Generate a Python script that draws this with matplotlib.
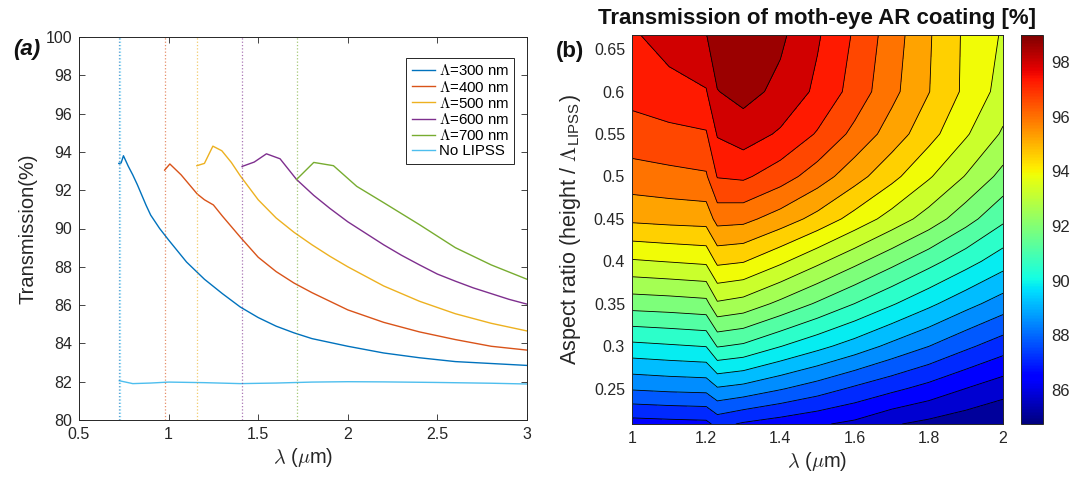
import numpy as np
import matplotlib
matplotlib.use("Agg")
import matplotlib.pyplot as plt
from matplotlib.ticker import FuncFormatter
from matplotlib.colors import Normalize
from matplotlib.cm import ScalarMappable

plt.rcParams['font.family'] = ['Liberation Sans', 'DejaVu Sans']
plt.rcParams['mathtext.fontset'] = 'cm'

# ---------------- Panel (a) data ----------------
x300 = [0.722, 0.735, 0.748, 0.775, 0.8, 0.825, 0.85, 0.875, 0.9, 0.925, 0.95, 1.0, 1.1, 1.2, 1.3, 1.4, 1.5, 1.6, 1.7, 1.8, 1.9, 2.0, 2.2, 2.4, 2.6, 2.8, 3.0]
y300 = [93.4, 93.42, 93.8, 93.25, 92.8, 92.3, 91.75, 91.2, 90.7, 90.35, 90.0, 89.4, 88.25, 87.35, 86.6, 85.9, 85.35, 84.9, 84.55, 84.25, 84.05, 83.85, 83.5, 83.25, 83.05, 82.95, 82.85]

x400 = [0.978, 1.007, 1.07, 1.16, 1.2, 1.25, 1.3, 1.35, 1.4, 1.5, 1.6, 1.7, 1.8, 1.9, 2.0, 2.2, 2.4, 2.6, 2.8, 3.0]
y400 = [93.05, 93.37, 92.8, 91.8, 91.5, 91.23, 90.65, 90.1, 89.55, 88.5, 87.75, 87.15, 86.65, 86.2, 85.75, 85.1, 84.6, 84.2, 83.85, 83.65]

x500 = [1.158, 1.2, 1.247, 1.297, 1.35, 1.4, 1.5, 1.6, 1.7, 1.8, 1.9, 2.0, 2.2, 2.4, 2.6, 2.8, 3.0]
y500 = [93.28, 93.4, 94.3, 94.06, 93.45, 92.75, 91.5, 90.55, 89.8, 89.15, 88.55, 88.0, 87.0, 86.2, 85.55, 85.05, 84.65]

x600 = [1.41, 1.478, 1.546, 1.622, 1.714, 1.81, 1.9, 2.0, 2.1, 2.2, 2.3, 2.4, 2.5, 2.6, 2.7, 2.8, 2.9, 3.0]
y600 = [93.24, 93.47, 93.9, 93.64, 92.56, 91.73, 91.05, 90.35, 89.75, 89.15, 88.6, 88.1, 87.62, 87.25, 86.9, 86.6, 86.3, 86.05]

x700 = [1.714, 1.81, 1.92, 2.05, 2.2, 2.4, 2.6, 2.8, 3.0]
y700 = [92.56, 93.45, 93.28, 92.2, 91.35, 90.2, 89.0, 88.1, 87.35]

x_nolipss = [0.725, 0.8, 0.9, 1.0, 1.2, 1.4, 1.6, 1.8, 2.0, 2.2, 2.5, 2.8, 3.0]
y_nolipss = [82.05, 81.9, 81.93, 81.98, 81.95, 81.9, 81.93, 81.98, 82.0, 81.99, 81.96, 81.92, 81.88]

labels = [r'$\Lambda$=300 nm', r'$\Lambda$=400 nm', r'$\Lambda$=500 nm',
          r'$\Lambda$=600 nm', r'$\Lambda$=700 nm', 'No LIPSS']
cutoffs = [0.722, 0.978, 1.158, 1.41, 1.714]
cutoff_nolipss = 0.729

# ---------------- Panel (b) data ----------------
wl = [1.0, 1.1, 1.2, 1.23, 1.3, 1.4, 1.5, 1.6, 1.7, 1.8, 1.9, 2.0]
ar = [0.2083, 0.25, 0.30, 0.35, 0.40, 0.45, 0.50, 0.55, 0.60, 0.6667]
# one list per wavelength column, values from bottom (ar[0]) to top (ar[-1])
T_cols = [
    [86.49, 88.21, 90.00, 91.83, 93.50, 95.07, 96.00, 96.67, 97.20, 97.55],
    [86.55, 88.30, 90.10, 91.90, 93.60, 95.15, 96.10, 96.80, 97.40, 97.95],
    [86.60, 88.35, 90.20, 92.00, 93.70, 95.20, 96.20, 96.90, 97.60, 98.30],
    [87.00, 88.75, 90.90, 92.80, 94.40, 95.85, 97.00, 97.70, 98.30, 98.75],
    [86.70, 88.59, 90.74, 92.63, 94.29, 95.80, 97.08, 97.98, 98.55, 98.95],
    [86.45, 88.20, 90.20, 92.05, 93.70, 95.30, 96.60, 97.55, 98.15, 98.45],
    [86.20, 87.80, 89.70, 91.45, 93.05, 94.70, 95.95, 96.90, 97.50, 97.72],
    [85.95, 87.35, 89.20, 90.85, 92.40, 94.00, 95.20, 96.10, 96.70, 96.88],
    [85.50, 86.95, 88.65, 90.25, 91.75, 93.30, 94.45, 95.30, 95.80, 95.95],
    [85.25, 86.55, 88.15, 89.65, 91.10, 92.60, 93.65, 94.50, 94.95, 95.00],
    [85.00, 86.10, 87.60, 89.05, 90.45, 91.80, 92.85, 93.65, 94.10, 94.12],
    [84.80, 85.70, 87.10, 88.50, 89.80, 91.00, 92.00, 92.80, 93.30, 93.50],
]
T_min, T_max = 84.75, 99.0
n_lines = 20
cbar_ticks = [86, 88, 90, 92, 94, 96, 98]

# ---------------- Figure ----------------
W, H = 1083, 479
fig = plt.figure(figsize=(W / 100, H / 100), dpi=100)

def rect(x0, y0, x1, y1):
    return [x0 / W, 1 - y1 / H, (x1 - x0) / W, (y1 - y0) / H]

axc = '#262626'
mcolors = [(0, 0.447, 0.741), (0.85, 0.325, 0.098), (0.929, 0.694, 0.125),
           (0.494, 0.184, 0.556), (0.466, 0.674, 0.188), (0.301, 0.745, 0.933)]

ax1 = fig.add_axes(rect(79, 37, 527, 420))
series = [(x300, y300), (x400, y400), (x500, y500), (x600, y600), (x700, y700), (x_nolipss, y_nolipss)]
for (xs, ys), c, lab in zip(series, mcolors, labels):
    ax1.plot(xs, ys, color=c, lw=1.0, label=lab)
for xc, c in zip(cutoffs, mcolors[:5]):
    ax1.axvline(xc, color=c, ls=':', lw=0.9, alpha=0.65)
ax1.axvline(cutoff_nolipss, color=mcolors[5], ls=':', lw=0.9, alpha=0.65)

ax1.set_xlim(0.5, 3)
ax1.set_ylim(80, 100)
ax1.set_xticks([0.5, 1, 1.5, 2, 2.5, 3])
ax1.set_yticks(np.arange(80, 101, 2))
fmt = FuncFormatter(lambda v, p: '%g' % v)
ax1.xaxis.set_major_formatter(fmt)
ax1.tick_params(direction='in', top=True, right=True, length=4, width=0.6,
                labelsize=11.5, colors=axc, pad=5)
for s in ax1.spines.values():
    s.set_color(axc)
    s.set_linewidth(0.7)
ax1.set_xlabel(r'$\lambda$ ($\mu$m)', fontsize=14.5, color=axc, labelpad=3)
ax1.set_ylabel('Transmission(%)', fontsize=14.5, color=axc, labelpad=6)
leg = ax1.legend(loc='upper right', bbox_to_anchor=(0.971, 0.945), borderaxespad=0,
                 fontsize=10.8, frameon=True, fancybox=False, framealpha=1,
                 edgecolor=axc, handlelength=1.55, handletextpad=0.25,
                 labelspacing=0.08, borderpad=0.35)
leg.get_frame().set_linewidth(0.7)

fig.text(27 / W, 1 - 49 / H, '(a)', fontsize=16, fontweight='bold', style='italic',
         ha='center', va='center', color='#111111')

# ---------------- Panel (b) ----------------
ax2 = fig.add_axes(rect(632, 35, 1003, 424))
WL, AR = np.meshgrid(wl, ar)
Z = np.array(T_cols).T
levels = np.linspace(T_min, T_max, n_lines + 2)
norm = Normalize(vmin=T_min, vmax=T_max)
ax2.contourf(WL, AR, Z, levels=levels, cmap='jet', norm=norm, extend='both')
ax2.contour(WL, AR, Z, levels=levels[1:-1], colors='k', linewidths=0.6)
ax2.set_xlim(1, 2)
ax2.set_ylim(ar[0], ar[-1])
ax2.set_xticks([1, 1.2, 1.4, 1.6, 1.8, 2])
ax2.set_yticks([0.25, 0.3, 0.35, 0.4, 0.45, 0.5, 0.55, 0.6, 0.65])
ax2.xaxis.set_major_formatter(fmt)
ax2.yaxis.set_major_formatter(fmt)
ax2.set_axisbelow(True)
ax2.tick_params(direction='in', top=True, right=True, length=4, width=0.6,
                labelsize=11.5, colors=axc, pad=5)
for s in ax2.spines.values():
    s.set_color(axc)
    s.set_linewidth(0.7)
ax2.set_xlabel(r'$\lambda$ ($\mu$m)', fontsize=14.5, color=axc, labelpad=3)
ax2.set_ylabel(r'Aspect ratio (height / $\Lambda_{\mathregular{LIPSS}}$)', fontsize=15.5,
               color=axc, labelpad=8)
ax2.set_title('Transmission of moth-eye AR coating [%]', fontsize=16, fontweight='bold',
              color='#111111', pad=8)

cax = fig.add_axes(rect(1021, 35, 1043, 424))
cb = fig.colorbar(ScalarMappable(norm=norm, cmap='jet'), cax=cax)
cb.set_ticks(cbar_ticks)
cax.tick_params(direction='in', length=0, labelsize=12, colors=axc, pad=6)
cb.outline.set_edgecolor(axc)
cb.outline.set_linewidth(0.7)

fig.text(570 / W, 1 - 52 / H, '(b)', fontsize=16, fontweight='bold',
         ha='center', va='center', color='#111111')

fig.savefig('out.png', dpi=100)
